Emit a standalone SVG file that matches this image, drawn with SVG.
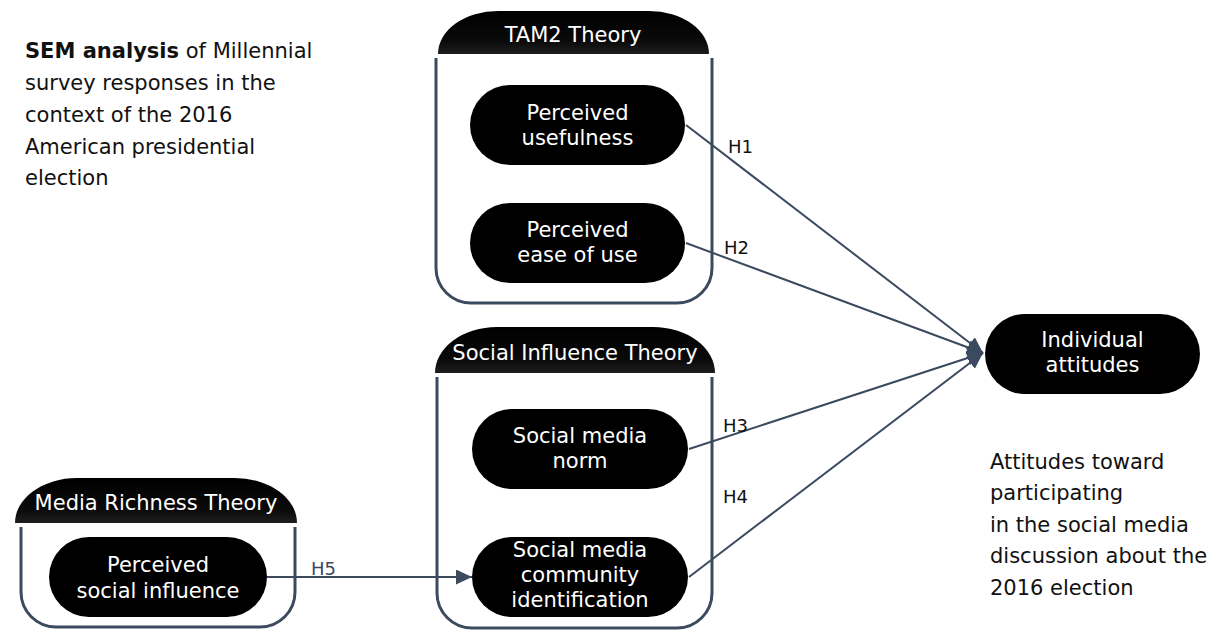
<svg xmlns="http://www.w3.org/2000/svg" width="1222" height="632" viewBox="0 0 1222 632">
<style>
  text { font-family: "DejaVu Sans", "Liberation Sans", sans-serif; font-size: 21px; }
  .node { fill: #000000; }
  .ntext { fill: #ffffff; text-anchor: middle; }
  .frame { fill: none; stroke: #3b4a5e; stroke-width: 3; }
  .head { fill: url(#hg); }
  .conn { fill: none; stroke: #3b4a5e; stroke-width: 2; }
  .lbl { font-size: 18px; fill: #111111; }
  .plain { fill: #111111; }
</style>
<defs>
  <linearGradient id="hg" x1="0" y1="0" x2="0" y2="1">
    <stop offset="0" stop-color="#000000"/>
    <stop offset="0.7" stop-color="#0a0a0a"/>
    <stop offset="1" stop-color="#1e1e1e"/>
  </linearGradient>
  <marker id="arr" markerUnits="userSpaceOnUse" markerWidth="18" markerHeight="16" refX="16" refY="7.5" orient="auto">
    <path d="M0,0 L16,7.5 L0,15 Z" fill="#3b4a5e"/>
  </marker>
</defs>
<rect x="0" y="0" width="1222" height="632" fill="#ffffff"/>

<g id="intro-text">
  <text x="25" y="58" class="plain"><tspan font-weight="bold">SEM analysis</tspan> of Millennial</text>
  <text x="25" y="90" class="plain">survey responses in the</text>
  <text x="25" y="122" class="plain">context of the 2016</text>
  <text x="25" y="154" class="plain">American presidential</text>
  <text x="25" y="185" class="plain">election</text>
</g>

<g id="tam2-theory">
  <path class="head" d="M438,54 A60,43 0 0 1 498,11 L649,11 A60,43 0 0 1 709,54 Z"/>
  <text x="573" y="42" class="ntext">TAM2 Theory</text>
  <path class="frame" d="M436,58 L436,268 A35,35 0 0 0 471,303 L677,303 A35,35 0 0 0 712,268 L712,58"/>
</g>

<g id="social-influence-theory">
  <path class="head" d="M435,373 A62,46 0 0 1 497,327 L653,327 A62,46 0 0 1 715,373 Z"/>
  <text x="575" y="360" class="ntext">Social Influence Theory</text>
  <path class="frame" d="M437,377 L437,593 A35,35 0 0 0 472,628 L677,628 A35,35 0 0 0 712,593 L712,377"/>
</g>

<g id="media-richness-theory">
  <path class="head" d="M15,523 A62,45 0 0 1 77,478 L235,478 A62,45 0 0 1 297,523 Z"/>
  <text x="156" y="510" class="ntext">Media Richness Theory</text>
  <path class="frame" d="M21,527 L21,592 A35,35 0 0 0 56,627 L260,627 A35,35 0 0 0 295,592 L295,527"/>
</g>

<g id="perceived-usefulness">
  <rect class="node" x="470" y="85" width="215" height="80" rx="40" ry="40"/>
  <text x="577.5" y="120" class="ntext">Perceived</text>
  <text x="577.5" y="145" class="ntext">usefulness</text>
</g>

<g id="perceived-ease-of-use">
  <rect class="node" x="470" y="203" width="215" height="80" rx="40" ry="40"/>
  <text x="577.5" y="237" class="ntext">Perceived</text>
  <text x="577.5" y="262" class="ntext">ease of use</text>
</g>

<g id="social-media-norm">
  <rect class="node" x="472" y="409" width="216" height="80" rx="40" ry="40"/>
  <text x="580" y="443" class="ntext">Social media</text>
  <text x="580" y="468" class="ntext">norm</text>
</g>

<g id="social-media-community-identification">
  <rect class="node" x="472" y="537" width="216" height="80" rx="40" ry="40"/>
  <text x="580" y="557" class="ntext">Social media</text>
  <text x="580" y="582" class="ntext">community</text>
  <text x="580" y="607" class="ntext">identification</text>
</g>

<g id="perceived-social-influence">
  <rect class="node" x="49" y="537" width="218" height="80" rx="40" ry="40"/>
  <text x="158" y="572" class="ntext">Perceived</text>
  <text x="158" y="598" class="ntext">social influence</text>
</g>

<g id="individual-attitudes">
  <rect class="node" x="985" y="314" width="215" height="80" rx="40" ry="40"/>
  <text x="1092.5" y="347" class="ntext">Individual</text>
  <text x="1092.5" y="372" class="ntext">attitudes</text>
</g>

<g id="outcome-text">
  <text x="990" y="469" class="plain">Attitudes toward</text>
  <text x="990" y="500" class="plain">participating</text>
  <text x="990" y="532" class="plain">in the  social media</text>
  <text x="990" y="563" class="plain">discussion about the</text>
  <text x="990" y="595" class="plain">2016 election</text>
</g>

<g id="connectors">
  <line class="conn" x1="686" y1="125" x2="983" y2="353" marker-end="url(#arr)"/>
  <line class="conn" x1="686" y1="243" x2="983" y2="353" marker-end="url(#arr)"/>
  <line class="conn" x1="689" y1="449" x2="983" y2="353" marker-end="url(#arr)"/>
  <line class="conn" x1="689" y1="577" x2="983" y2="353" marker-end="url(#arr)"/>
  <line class="conn" x1="267" y1="577" x2="472" y2="577" marker-end="url(#arr)"/>
  <text x="728" y="153" class="lbl">H1</text>
  <text x="724" y="254" class="lbl">H2</text>
  <text x="723" y="432" class="lbl">H3</text>
  <text x="723" y="503" class="lbl">H4</text>
  <text x="311" y="575" class="lbl" style="fill:#3b4a5e">H5</text>
</g>
</svg>
